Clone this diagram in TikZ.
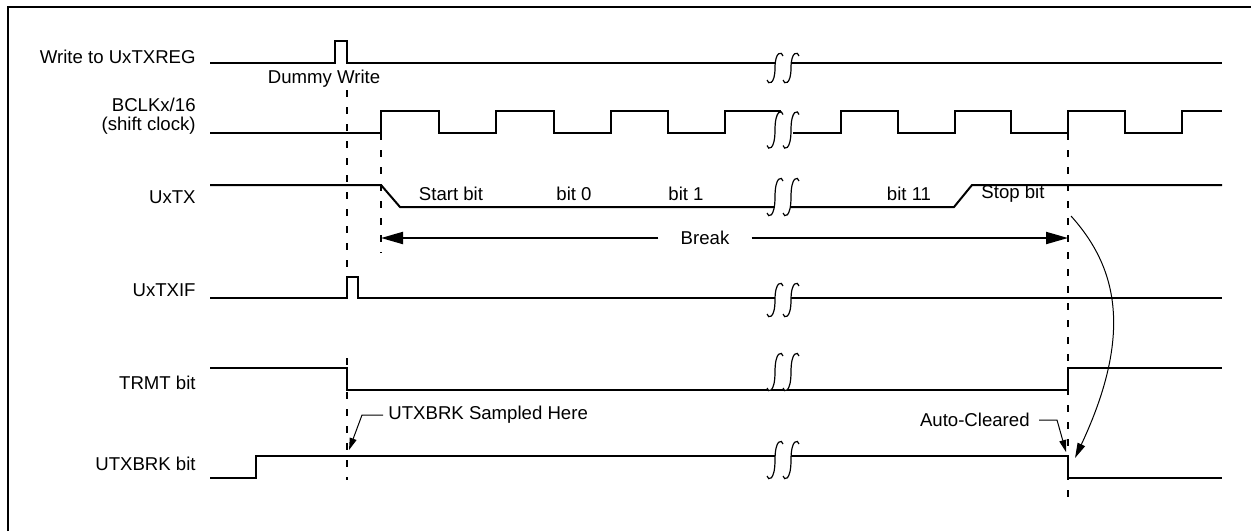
\documentclass[tikz,border=0pt]{standalone}
\usepackage{fontspec}
\setmainfont{Liberation Sans}
\usepackage{tikz}
\usetikzlibrary{arrows.meta,positioning,calc}

% break mark: two S strokes with a blank between them
\newcommand{\wavecut}[2]{%
  \fill[white] (767,#1+#2-4) .. controls (768,#1+#2+1) and (775,#1+#2+1) .. (775,#1)
               .. controls (775,#1-#2-1) and (782,#1-#2-1) .. (783,#1-#2+4)
               -- (799,#1-#2+4) .. controls (798,#1-#2-1) and (791,#1-#2-1) .. (791,#1)
               .. controls (791,#1+#2+1) and (784,#1+#2+1) .. (783,#1+#2-4) -- cycle;
  \foreach \dx in {0,16}
    \draw[cutline,xshift=\dx*0.5pt] (767,#1+#2-4) .. controls (768,#1+#2+1) and (775,#1+#2+1) .. (775,#1)
               .. controls (775,#1-#2-1) and (782,#1-#2-1) .. (783,#1-#2+4);
}

\begin{document}
\begin{tikzpicture}[x=0.5pt,y=-0.5pt,
  wave/.style={line width=1pt},
  marker/.style={line width=1pt,dash pattern=on 3.5pt off 5pt},
  cutline/.style={line width=0.6pt},
  txt/.style={inner sep=0pt,font=\fontsize{9.3}{9.4}\selectfont},
  signame/.style={txt,anchor=east,align=right},
  callout/.style={line width=0.5pt,-{Triangle[length=6pt,width=3.5pt]}},
  bigtip/.style={line width=1pt,-{Triangle[length=11pt,width=6pt]}}]
  \useasboundingbox (0,0) rectangle (1251,531);
  \def\hi{110.5}
  \def\lo{132.5}
  % frame
  \draw[line width=1.1pt] (8,531) -- (8,7) -- (1251,7);
  % --- write to UxTXREG ---
  \node[signame] (wr) at (196,56.5) {Write to UxTXREG};
  \draw[wave] (210,62.5) -- (335,62.5) -- (335,41) -- (347,41) -- (347,62.5) -- (1222,62.5);
  \node[txt] (dummy) at (324,79) {Dummy Write};
  % --- shift clock ---
  \node[signame] (clk) at (196,116) {BCLKx/16\\(shift clock)};
  \draw[wave] (210,\lo) -- (381,\lo) -- (381,\hi) -- (439,\hi) -- (439,\lo) -- (496,\lo)
              -- (496,\hi) -- (554,\hi) -- (554,\lo) -- (611,\lo) -- (611,\hi) -- (668,\hi)
              -- (668,\lo) -- (725,\lo) -- (725,\hi) -- (781,\hi);
  \draw[wave] (793,\lo) -- (841,\lo)
              -- (841,\hi) -- (898,\hi) -- (898,\lo) -- (955,\lo) -- (955,\hi) -- (1011,\hi)
              -- (1011,\lo) -- (1068,\lo) -- (1068,\hi) -- (1125,\hi) -- (1125,\lo)
              -- (1182,\lo) -- (1182,\hi) -- (1222,\hi);
  % --- UxTX ---
  \node[signame] (tx) at (196,197) {UxTX};
  \draw[wave] (210,185) -- (381,185) -- (400,207) -- (954,207) -- (972,185) -- (1222,185);
  \node[txt] (b0) at (451,194) {Start bit};
  \node[txt] (b1) at (574,194) {bit 0};
  \node[txt] (b2) at (686,194) {bit 1};
  \node[txt] (b3) at (909,194) {bit 11};
  \node[txt] (b4) at (1013,194) {Stop bit};
  % break length
  \coordinate (brkL) at (381,238);
  \coordinate (brkR) at (1068,238);
  \node[txt,inner xsep=11pt] (brk) at (705,238) {Break};
  \draw[bigtip] (brk) -- (brkL);
  \draw[bigtip] (brk) -- (brkR);
  % --- UxTXIF ---
  \node[signame] (txif) at (196,290) {UxTXIF};
  \draw[wave] (210,297.5) -- (347,297.5) -- (347,277) -- (358,277) -- (358,297.5) -- (1222,297.5);
  % --- TRMT ---
  \node[signame] (trmt) at (196,383) {TRMT bit};
  \draw[wave] (210,368) -- (347,368) -- (347,390) -- (1068,390) -- (1068,368) -- (1222,368);
  % --- UTXBRK ---
  \node[signame] (brkbit) at (196,463.5) {UTXBRK bit};
  \draw[wave] (210,477.5) -- (256,477.5) -- (256,456) -- (1068,456) -- (1068,477.5) -- (1222,477.5);
  % breaks in time axis
  \foreach \yc/\hh in {68/16,130/19.5,197/20,300/18,372/20,460/20}
    \wavecut{\yc}{\hh}
  % markers
  \draw[marker] (347,90) -- (347,298);
  \draw[marker] (347,358) -- (347,480);
  \draw[marker] (381,133) -- (381,253);
  \draw[marker] (1068,133) -- (1068,498);
  % notes
  \node[txt,anchor=west] (smp) at (388,415) {UTXBRK Sampled Here};
  \coordinate (smpTip) at (349,450);
  \draw[callout] (smp.west) ++(-5,0) -- ++(-21,0) -- (smpTip);
  \node[txt,anchor=east] (clr) at (1030,420) {Auto-Cleared};
  \coordinate (clrTip) at (1066,452);
  \draw[callout] (clr.east) ++(9,0) -- ++(18,0) -- (clrTip);
  \coordinate (stopPt) at (1071,216);
  \coordinate (endPt) at (1075,458);
  \draw[line width=0.5pt,-{Triangle[length=7.5pt,width=4pt]}] (stopPt) .. controls (1115,265) and (1135,330) .. (endPt);
\end{tikzpicture}
\end{document}
